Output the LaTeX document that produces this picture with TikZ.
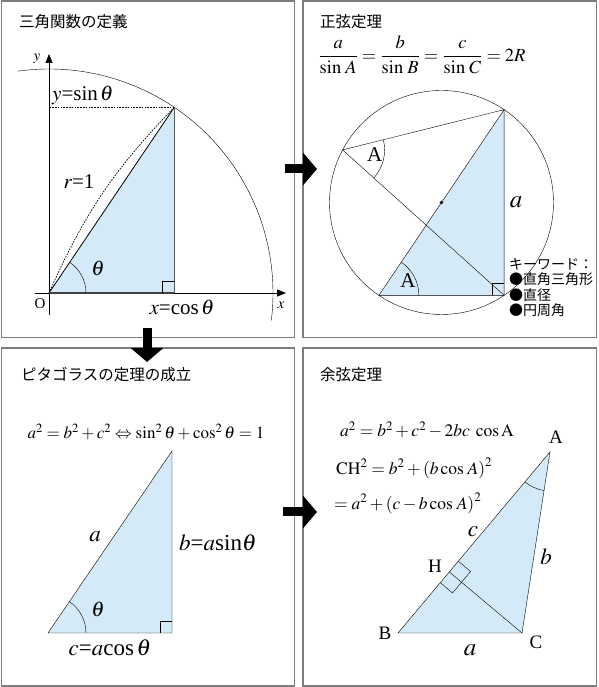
\documentclass[tikz,border=0pt]{standalone}
\usepackage{mathptmx}
\usepackage{fontspec}
\setmainfont{Liberation Serif}
\newfontfamily\jp{Noto Sans CJK JP}
\usetikzlibrary{arrows.meta,calc,angles}
\definecolor{paleblue}{RGB}{212,234,248}
\definecolor{framegray}{RGB}{125,125,125}

\begin{document}
\begin{tikzpicture}[x=1pt,y=1pt,
    panel/.style={draw=framegray,line width=1.6pt},
    title/.style={anchor=west,inner sep=0pt,font=\jp\fontsize{15.5}{18}\selectfont},
    keyword/.style={anchor=north west,inner sep=0pt,align=left,font=\jp\fontsize{14}{15.5}\selectfont},
    bigarrow/.style={line width=9pt,-{Triangle[length=14pt,width=32pt]}},
    axis/.style={thin,-{Triangle[length=9pt,width=7pt]}},
    dots/.style={line width=0.7pt,dash pattern=on 1.6pt off 1.2pt},
    lbl/.style={inner sep=0pt,font=\fontsize{21}{24}\selectfont},
    vtx/.style={inner sep=0pt,font=\fontsize{19}{22}\selectfont},
    eq/.style={inner sep=0pt,anchor=west,font=\fontsize{17.5}{20}\selectfont}]
      \useasboundingbox (0,0) rectangle (598,687) ;
      \draw[panel] (1.5,349.5) rectangle (294.5,686) ;
      \draw[panel] (303,349.5) rectangle (596.5,686) ;
      \draw[panel] (1.5,1) rectangle (294.5,339) ;
      \draw[panel] (303,1) rectangle (596.5,339) ;
      % definition of sin and cos
      \node[title] (t1) at (19,665) {三角関数の定義} ;
      \coordinate (O) at (49,394) ;
      \coordinate (P) at ($(O)+(56:224)$) ;
      \coordinate (F) at (P |- O) ;
      \coordinate (xs) at (35,394) ;
      \coordinate (xe) at (286,394) ;
      \coordinate (ys) at (49,372) ;
      \coordinate (ye) at (49,633) ;
      \fill[paleblue] (O) -- (F) -- (P) -- cycle ;
      \draw[axis] (xs) -- (xe) ;
      \draw[axis] (ys) -- (ye) ;
      \draw (O) ++(98:224) arc (98:-7:224) ;
      \draw[dots] (O) to[bend left=10] (P) ;
      \draw[dots] (P) -- (O |- P) ;
      \draw[thick] (O) -- (P) ;
      \draw[thick,black!65] (F) -- (P) ;
      \draw[line width=1.5pt,black!75] (O) -- (F) ;
      \draw ($(F)+(-12,0)$) -- ++(0,12) -- ++(12,0) ;
      \draw (O) ++(37,0) arc (0:56:37) ;
      \node[inner sep=0pt,font=\fontsize{15}{17}\selectfont] (Olbl) at (40,383) {O} ;
      \node[inner sep=0pt,font=\fontsize{15}{17}\selectfont] (xlbl) at (281,382) {$x$} ;
      \node[inner sep=0pt,font=\fontsize{15}{17}\selectfont] (ylbl) at (37,628) {$y$} ;
      \node[lbl,anchor=west] (ysin) at (52,592) {$y$=sin$\,\theta$} ;
      \node[lbl] (rone) at (79,505) {$r$=1} ;
      \node[lbl] (th1) at (98,419) {$\theta$} ;
      \node[lbl] (xcos) at (182,380) {$x$=cos$\,\theta$} ;
      % law of sines
      \node[title] (t2) at (320,665) {正弦定理} ;
      \node[font=\fontsize{18.5}{21}\selectfont,inner sep=0pt] (sinlaw) at (422,632)
        {$\displaystyle\frac{a}{\sin\,A}=\frac{b}{\sin\,B}=\frac{c}{\sin\,C}=2R$} ;
      \coordinate (M) at (441.5,484.5) ;
      \coordinate (T) at ($(M)+(56:112)$) ;
      \coordinate (R) at ($(M)+(-56:112)$) ;
      \coordinate (L) at ($(M)+(236:112)$) ;
      \coordinate (Q) at ($(M)+(152:112)$) ;
      \fill[paleblue] (L) -- (R) -- (T) -- cycle ;
      \draw (M) circle (112) ;
      \draw (L) -- (R) -- (T) -- cycle ;
      \draw (Q) -- (T) ;
      \draw (Q) -- (R) ;
      \pic[draw,angle radius=42pt] {angle=R--Q--T} ;
      \pic[draw,angle radius=40pt] {angle=R--L--T} ;
      \draw ($(R)+(-12,0)$) -- ++(0,12) -- ++(12,0) ;
      \node[fill=black,inner sep=1.3pt,shape=circle] (Mdot) at (M) {} ;
      \node[vtx,font=\fontsize{21}{24}\selectfont] (AQ) at ($(Q)+(32,-5)$) {A} ;
      \node[vtx,font=\fontsize{21}{24}\selectfont] (AL) at ($(L)+(29,15)$) {A} ;
      \node[inner sep=0pt,font=\fontsize{25}{28}\selectfont] (alab) at (516,485) {$a$} ;
      \node[keyword] (kw) at (509,429) {キーワード：\\●直角三角形\\●直径\\●円周角} ;
      % Pythagoras
      \node[title] (t3) at (21,312) {ピタゴラスの定理の成立} ;
      \node[font=\fontsize{17}{19}\selectfont,inner sep=0pt] (pyth) at (146,255)
        {$a^2=b^2+c^2\Leftrightarrow\sin^2\theta+\cos^2\theta=1$} ;
      \coordinate (A3) at (48,54) ;
      \coordinate (B3) at (172,54) ;
      \coordinate (C3) at (172,236) ;
      \fill[paleblue] (A3) -- (B3) -- (C3) -- cycle ;
      \draw (A3) -- (B3) -- (C3) -- cycle ;
      \pic[draw,angle radius=38pt] {angle=B3--A3--C3} ;
      \draw ($(B3)+(-12,0)$) -- ++(0,12) -- ++(12,0) ;
      \node[lbl,font=\fontsize{23}{26}\selectfont] (a3) at (95,150) {$a$} ;
      \node[lbl,anchor=west,font=\fontsize{23}{26}\selectfont] (b3) at (179,144) {$b$=$a$sin$\theta$} ;
      \node[lbl,font=\fontsize{23}{26}\selectfont] (c3) at (110,39) {$c$=$a$cos$\,\theta$} ;
      \node[lbl] (th3) at (98,78) {$\theta$} ;
      % law of cosines
      \node[title] (t4) at (320,312) {余弦定理} ;
      \node[eq] (cos1) at (340,257) {$a^2=b^2+c^2-2bc\;\cos\mathrm{A}$} ;
      \node[eq] (cos2) at (336,219) {$\mathrm{CH}^2=b^2+\left(b\cos\,A\right)^2$} ;
      \node[eq] (cos3) at (334,184) {$=a^2+\left(c-b\cos\,A\right)^2$} ;
      \coordinate (A4) at (550,235) ;
      \coordinate (B4) at (398,54) ;
      \coordinate (C4) at (522,54) ;
      \coordinate (H) at ($(B4)!(C4)!(A4)$) ;
      \coordinate (H1) at ($(H)!14pt!(A4)$) ;
      \coordinate (H2) at ($(H)!14pt!(B4)$) ;
      \coordinate (K) at ($(H)!16pt!(C4)$) ;
      \fill[paleblue] (A4) -- (B4) -- (C4) -- cycle ;
      \draw (A4) -- (B4) -- (C4) -- cycle ;
      \draw (C4) -- (H) ;
      \draw (H1) -- ($(H1)+(K)-(H)$) -- ($(H2)+(K)-(H)$) -- (H2) ;
      \pic[draw,angle radius=39pt] {angle=B4--A4--C4} ;
      \node[vtx] (Alab) at (556,250) {A} ;
      \node[vtx] (Blab) at (385,54) {B} ;
      \node[vtx] (Clab) at (536,45) {C} ;
      \node[vtx] (Hlab) at (435,121) {H} ;
      \node[lbl,font=\fontsize{23}{26}\selectfont] (c4) at (473,155) {$c$} ;
      \node[lbl,font=\fontsize{23}{26}\selectfont] (b4) at (546,130) {$b$} ;
      \node[lbl,font=\fontsize{25}{28}\selectfont] (a4) at (470,37) {$a$} ;
      % arrows between panels
      \coordinate (r1s) at (285,518) ;
      \coordinate (r1e) at (317,518) ;
      \coordinate (d1s) at (147,359) ;
      \coordinate (d1e) at (147,325) ;
      \coordinate (r2s) at (283,175) ;
      \coordinate (r2e) at (317,175) ;
      \draw[bigarrow] (r1s) -- (r1e) ;
      \draw[bigarrow] (d1s) -- (d1e) ;
      \draw[bigarrow] (r2s) -- (r2e) ;
    \end{tikzpicture}
\end{document}
